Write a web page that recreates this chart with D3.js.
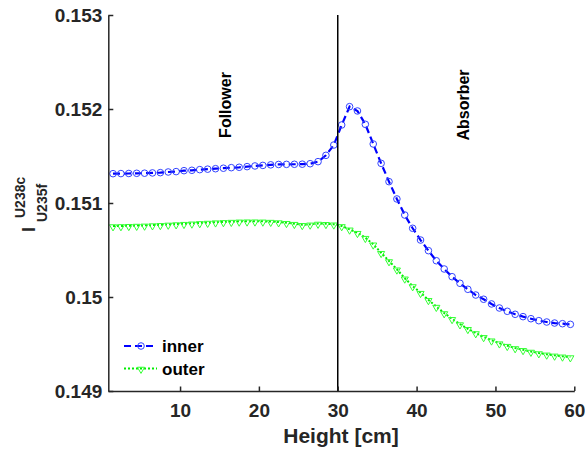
<!DOCTYPE html>
<html><head><meta charset="utf-8">
<script src="https://cdn.jsdelivr.net/npm/d3@7"></script>
<style>body{margin:0;background:#fff}svg{display:block}text{font-family:"Liberation Sans",Arial,sans-serif;font-weight:bold}</style>
</head><body><div id="chart"></div>
<script>
const heights = [1.5,2.5,3.5,4.5,5.5,6.5,7.5,8.5,9.5,10.5,11.5,12.5,13.5,14.5,15.5,16.5,17.5,18.5,19.5,20.5,21.5,22.5,23.5,24.5,25.5,26.5,27.5,28.5,29.5,30.5,31.5,32.5,33.5,34.5,35.5,36.5,37.5,38.5,39.5,40.5,41.5,42.5,43.5,44.5,45.5,46.5,47.5,48.5,49.5,50.5,51.5,52.5,53.5,54.5,55.5,56.5,57.5,58.5,59.5];
const inner = [0.151312,0.151313,0.151314,0.151316,0.151317,0.151320,0.151323,0.151330,0.151334,0.151344,0.151348,0.151355,0.151360,0.151365,0.151370,0.151376,0.151380,0.151387,0.151394,0.151400,0.151406,0.151410,0.151411,0.151412,0.151413,0.151418,0.151440,0.151507,0.151617,0.151830,0.152025,0.151979,0.151837,0.151628,0.151422,0.151227,0.151043,0.150872,0.150731,0.150606,0.150493,0.150386,0.150298,0.150216,0.150146,0.150082,0.150021,0.149976,0.149926,0.149883,0.149848,0.149816,0.149791,0.149769,0.149748,0.149734,0.149723,0.149716,0.149709];
const outer = [0.150755,0.150756,0.150758,0.150760,0.150762,0.150765,0.150768,0.150772,0.150776,0.150780,0.150784,0.150788,0.150792,0.150796,0.150799,0.150802,0.150805,0.150806,0.150806,0.150805,0.150802,0.150797,0.150790,0.150780,0.150768,0.150773,0.150782,0.150779,0.150774,0.150756,0.150720,0.150684,0.150631,0.150561,0.150471,0.150383,0.150295,0.150199,0.150117,0.150046,0.149970,0.149898,0.149830,0.149768,0.149712,0.149662,0.149617,0.149576,0.149540,0.149509,0.149482,0.149458,0.149438,0.149420,0.149404,0.149390,0.149379,0.149369,0.149361];
const xTicks = [10,20,30,40,50,60];
const yTicks = [0.149,0.150,0.151,0.152,0.153];
const yTickLabels = ["0.149","0.15","0.151","0.152","0.153"];
const seriesNames = ["inner","outer"];
const boundary = 30;
const regionLabels = ["Follower","Absorber"];
const regionLabelX = [16.5,46.6];

const W=585,H=450;
const svg=d3.select("#chart").append("svg").attr("width",W).attr("height",H);
const x=d3.scaleLinear().domain([0.9,60]).range([108.3,574.3]);
const y=d3.scaleLinear().domain([0.149,0.153]).range([391,15]);
const axisColor="#262626";

// series
const line=d3.line().x((d,i)=>x(heights[i])).y(d=>y(d));
const gData=svg.append("g");
gData.append("path").datum(outer).attr("d",line).attr("fill","none")
  .attr("stroke","#00ee00").attr("stroke-width",2).attr("stroke-dasharray","2,2");
const tri=d3.symbol().type(d3.symbolTriangle).size(22);
gData.selectAll(".tri").data(outer).join("path").attr("class","tri")
  .attr("d",tri).attr("transform",(d,i)=>`translate(${x(heights[i])},${y(d)+0.8}) rotate(180)`)
  .attr("fill","none").attr("stroke","#33ff33").attr("stroke-width",1);
gData.append("path").datum(inner).attr("d",line).attr("fill","none")
  .attr("stroke","#0000ff").attr("stroke-width",2.2).attr("stroke-dasharray","7,4");
gData.selectAll(".circ").data(inner).join("circle").attr("class","circ")
  .attr("cx",(d,i)=>x(heights[i])).attr("cy",d=>y(d)).attr("r",3.3)
  .attr("fill","none").attr("stroke","#3344ff").attr("stroke-width",1);

// boundary line
svg.append("line").attr("x1",x(boundary)).attr("x2",x(boundary)).attr("y1",y(0.153)).attr("y2",y(0.149))
  .attr("stroke","#000").attr("stroke-width",1.5);

// region labels
regionLabels.forEach((t,i)=>{
  svg.append("text").attr("transform",`translate(${x(regionLabelX[i])},105) rotate(-90)`)
    .attr("text-anchor","middle").attr("font-size",16).attr("fill","#000").text(t);
});

// axes
const xAxis=d3.axisBottom(x).tickValues(xTicks).tickSizeInner(-4.5).tickSizeOuter(0).tickPadding(13).tickFormat(d3.format("d"));
const gx=svg.append("g").attr("transform",`translate(0,${y(0.149)})`).call(xAxis);
const yAxis=d3.axisLeft(y).tickValues(yTicks).tickSizeInner(-5).tickSizeOuter(0).tickPadding(6).tickFormat((d,i)=>yTickLabels[i]);
const gy=svg.append("g").attr("transform",`translate(${x(0.9)},0)`).call(yAxis);
[gx,gy].forEach(g=>{
  g.select(".domain").attr("stroke",axisColor).attr("stroke-width",1.5);
  g.selectAll(".tick line").attr("stroke",axisColor).attr("stroke-width",1.5);
  g.selectAll(".tick text").attr("fill",axisColor).attr("font-size",19)
   .style("font-family",'"Liberation Sans",Arial,sans-serif').style("font-weight","bold");
});

// axis labels
svg.append("text").attr("x",341).attr("y",443).attr("text-anchor","middle")
  .attr("font-size",21).attr("fill",axisColor).text("Height [cm]");
const yl=svg.append("g").attr("transform","translate(35,232) rotate(-90)");
yl.append("text").attr("x",0).attr("y",0).attr("font-size",18).attr("fill",axisColor).text("I");
yl.append("text").attr("x",14).attr("y",-10).attr("font-size",14).attr("fill",axisColor).text("U238c");
yl.append("text").attr("x",10).attr("y",12).attr("font-size",14).attr("fill",axisColor).text("U235f");

// legend
const lg=svg.append("g");
const legY=[346,368.5];
lg.append("line").attr("x1",124).attr("x2",157).attr("y1",legY[0]).attr("y2",legY[0])
  .attr("stroke","#0000ff").attr("stroke-width",2).attr("stroke-dasharray","7,4");
lg.append("circle").attr("cx",141).attr("cy",legY[0]).attr("r",3.3).attr("fill","none").attr("stroke","#3344ff");
lg.append("line").attr("x1",124).attr("x2",157).attr("y1",legY[1]).attr("y2",legY[1])
  .attr("stroke","#00ee00").attr("stroke-width",2).attr("stroke-dasharray","2,2");
lg.append("path").attr("d",tri).attr("transform",`translate(141,${legY[1]+0.8}) rotate(180)`)
  .attr("fill","none").attr("stroke","#33ff33");
seriesNames.forEach((s,i)=>{
  lg.append("text").attr("x",162).attr("y",legY[i]+6).attr("font-size",17).attr("fill","#000").text(s);
});
</script></body></html>
